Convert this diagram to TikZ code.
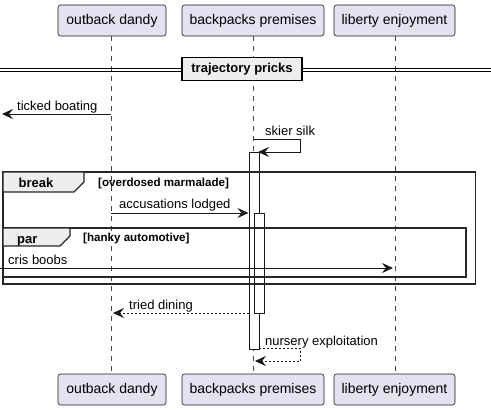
\documentclass[tikz,border=0pt]{standalone}
\usepackage{fontspec}
\setmainfont{Liberation Sans}
\usetikzlibrary{arrows.meta}
\definecolor{partfill}{HTML}{E2E2F0}
\definecolor{partline}{HTML}{181818}
\definecolor{tabfill}{HTML}{EEEEEE}
\tikzset{
  part/.style={draw=partline, fill=partfill, rounded corners=2.5pt, line width=0.6pt, minimum height=31pt, inner sep=0pt, font=\fontsize{14}{16}\selectfont},
  life/.style={draw=partline!80, line width=0.6pt, dash pattern=on 5pt off 5pt},
  act/.style={draw=partline, fill=white, line width=0.9pt},
  msg/.style={draw=partline, line width=0.9pt, -{Stealth[length=11pt,width=10pt,inset=4pt]}},
  rmsg/.style={msg, dash pattern=on 2pt off 2pt},
  lbl/.style={anchor=base west, inner sep=0pt, font=\fontsize{13}{15}\selectfont},
  frm/.style={draw=black!85, line width=1.4pt},
  tabtxt/.style={anchor=base west, inner sep=0pt, font=\bfseries\fontsize{13}{15}\selectfont},
  condtxt/.style={anchor=base west, inner sep=0pt, font=\bfseries\fontsize{11.6}{13}\selectfont}
}
\begin{document}
\begin{tikzpicture}[x=1pt,y=-1pt]
\useasboundingbox (0,0) rectangle (491,410);
% participants
\node[part, minimum width=108pt] (od) at (112,20.5) {outback dandy};
\node[part, minimum width=142pt] (bp) at (253,20.5) {backpacks premises};
\node[part, minimum width=121pt] (le) at (394.5,20.5) {liberty enjoyment};
\node[part, minimum width=108pt] (odb) at (112,389.5) {outback dandy};
\node[part, minimum width=142pt] (bpb) at (253,389.5) {backpacks premises};
\node[part, minimum width=121pt] (leb) at (394.5,389.5) {liberty enjoyment};
% lifelines
\coordinate (l1t) at (111,36); \coordinate (l1b) at (111,373);
\coordinate (l2t) at (253.5,36); \coordinate (l2b) at (253.5,373);
\coordinate (l3t) at (395,36); \coordinate (l3b) at (395,373);
\draw[life] (l1t) -- (l1b);
\draw[life] (l2t) -- (l2b);
\draw[life] (l3t) -- (l3b);
% divider
\draw[line width=0.9pt] (0,68) -- (491,68);
\draw[line width=0.9pt] (0,71.5) -- (491,71.5);
\node[draw=black, line width=1.4pt, fill=tabfill, minimum width=120pt, minimum height=23pt, inner sep=0pt, font=\bfseries\fontsize{13}{15}\selectfont] (div) at (242,69) {trajectory pricks};
% ticked boating
\coordinate (tb1) at (111,114); \coordinate (tb2) at (2,114);
\draw[msg] (tb1) -- (tb2);
\node[lbl] (tbl) at (17,110) {ticked boating};
% skier silk
\coordinate (ss1) at (253.5,139); \coordinate (ss2) at (300,139);
\coordinate (ss3) at (300,152); \coordinate (ss4) at (258,152);
\draw[msg] (ss1) -- (ss2) -- (ss3) -- (ss4);
\node[lbl] (ssl) at (265,135) {skier silk};
% activations
\node[act, minimum width=10pt, minimum height=197pt, inner sep=0pt, anchor=north west] (a1) at (248.5,152) {};
\node[act, minimum width=10pt, minimum height=100pt, inner sep=0pt, anchor=north west] (a2) at (253.5,213) {};
% break frame
\draw[frm] (3,172) rectangle (475.5,284);
\draw[frm, fill=tabfill] (3,172) -- (84,172) -- (84,182) -- (74,192) -- (3,192) -- cycle;
\node[tabtxt] (brk) at (18.5,187) {break};
\node[condtxt] (brkc) at (98,186) {[overdosed marmalade]};
% accusations lodged
\coordinate (al1) at (111,213);
\draw[msg] (al1) -- (a1.west |- al1) ;
\node[lbl] (all) at (119,208) {accusations lodged};
% par frame
\draw[frm] (3,228) rectangle (466,277);
\draw[frm, fill=tabfill] (3,228) -- (70,228) -- (70,236) -- (60,246) -- (3,246) -- cycle;
\node[tabtxt] (parl) at (17,243) {par};
\node[condtxt] (parc) at (83,241.5) {[hanky automotive]};
% cris boobs
\coordinate (cb1) at (0,268); \coordinate (cb2) at (393,268);
\draw[msg] (cb1) -- (cb2);
\node[lbl] (cbl) at (8,264) {cris boobs};
% tried dining
\coordinate (td1) at (248.5,313); \coordinate (td2) at (113,313);
\draw[rmsg] (td1) -- (td2);
\node[lbl] (tdl) at (129,309) {tried dining};
% nursery exploitation
\coordinate (ne1) at (258.5,348); \coordinate (ne2) at (300,348);
\coordinate (ne3) at (300,361); \coordinate (ne4) at (255,361);
\draw[rmsg] (ne1) -- (ne2) -- (ne3) -- (ne4);
\node[lbl] (nel) at (265,345) {nursery exploitation};
\end{tikzpicture}
\end{document}
